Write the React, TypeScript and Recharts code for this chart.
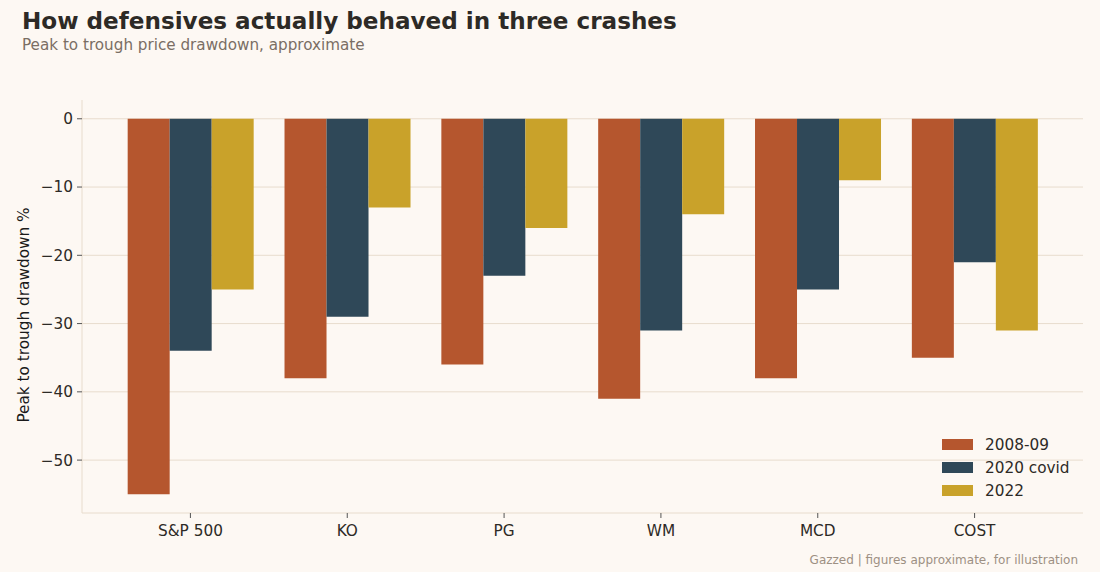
import React from "react";
import { BarChart, Bar, XAxis, YAxis, CartesianGrid } from "recharts";

const categories = ["S&P 500", "KO", "PG", "WM", "MCD", "COST"];
const crash2008 = [-55, -38, -36, -41, -38, -35];
const crash2020 = [-34, -29, -23, -31, -25, -21];
const crash2022 = [-25, -13, -16, -14, -9, -31];
const yTicks = [0, -10, -20, -30, -40, -50];

const series = [
  { key: "c2008", name: "2008-09", color: "#b5562e" },
  { key: "c2020", name: "2020 covid", color: "#2f4858" },
  { key: "c2022", name: "2022", color: "#c9a22a" },
];

const data = categories.map((name, i) => ({
  name,
  c2008: crash2008[i],
  c2020: crash2020[i],
  c2022: crash2022[i],
}));

const font = "'DejaVu Sans', sans-serif";
const bg = "#fdf8f3";
const gridColor = "#e8dccd";
const yMin = -57.75;
const yMax = 2.75;

export default function App() {
  return (
    <div
      style={{
        position: "absolute",
        left: 0,
        top: 0,
        width: 1100,
        height: 572,
        background: bg,
        fontFamily: font,
        overflow: "hidden",
      }}
    >
      <div
        style={{
          position: "absolute",
          left: 22,
          top: 8,
          fontSize: 23.1,
          fontWeight: "bold",
          color: "#2d2a26",
        }}
      >
        How defensives actually behaved in three crashes
      </div>
      <div
        style={{
          position: "absolute",
          left: 22,
          top: 36,
          fontSize: 15.2,
          color: "#7a6e64",
        }}
      >
        Peak to trough price drawdown, approximate
      </div>
      <div
        style={{
          position: "absolute",
          left: 24,
          top: 315,
          fontSize: 15.3,
          color: "#1a1a1a",
          transform: "translate(-50%, -50%) rotate(-90deg)",
          whiteSpace: "nowrap",
        }}
      >
        Peak to trough drawdown %
      </div>
      <div
        style={{
          position: "absolute",
          right: 22,
          top: 553,
          fontSize: 12,
          color: "#9d9083",
        }}
      >
        Gazzed | figures approximate, for illustration
      </div>
      <BarChart
        width={1100}
        height={572}
        data={data}
        margin={{ top: 100, right: 17, left: 22, bottom: 19 }}
        barCategoryGap="10%"
        barGap={0}
      >
        <CartesianGrid
          vertical={false}
          stroke={gridColor}
          strokeWidth={1}
          horizontalCoordinatesGenerator={({ offset }: any) =>
            yTicks.map(
              (v) => offset.top + ((yMax - v) / (yMax - yMin)) * offset.height
            )
          }
        />
        <XAxis
          dataKey="name"
          height={40}
          padding={{ left: 30, right: 30 }}
          axisLine={{ stroke: gridColor }}
          tickLine={{ stroke: "#555" }}
          tickSize={5}
          tickMargin={7}
          tick={{ fill: "#2d2a26", fontSize: 15.3, fontFamily: font }}
        />
        <YAxis
          type="number"
          domain={[yMin, yMax]}
          ticks={yTicks}
          width={60}
          axisLine={{ stroke: gridColor }}
          tickLine={{ stroke: "#555" }}
          tickSize={5}
          tickMargin={4}
          tickFormatter={(v: number) => String(v).replace("-", "\u2212")}
          tick={{ fill: "#2d2a26", fontSize: 15.3, fontFamily: font }}
        />
        {series.map((s) => (
          <Bar
            key={s.key}
            dataKey={s.key}
            name={s.name}
            fill={s.color}
            isAnimationActive={false}
          />
        ))}
      </BarChart>
      <div
        style={{
          position: "absolute",
          left: 942,
          top: 433,
          fontSize: 15.3,
          color: "#2d2a26",
        }}
      >
        {series.map((s) => (
          <div
            key={s.key}
            style={{ display: "flex", alignItems: "center", height: 23 }}
          >
            <span
              style={{
                display: "inline-block",
                width: 31,
                height: 11,
                background: s.color,
                marginRight: 12,
              }}
            />
            {s.name}
          </div>
        ))}
      </div>
    </div>
  );
}
